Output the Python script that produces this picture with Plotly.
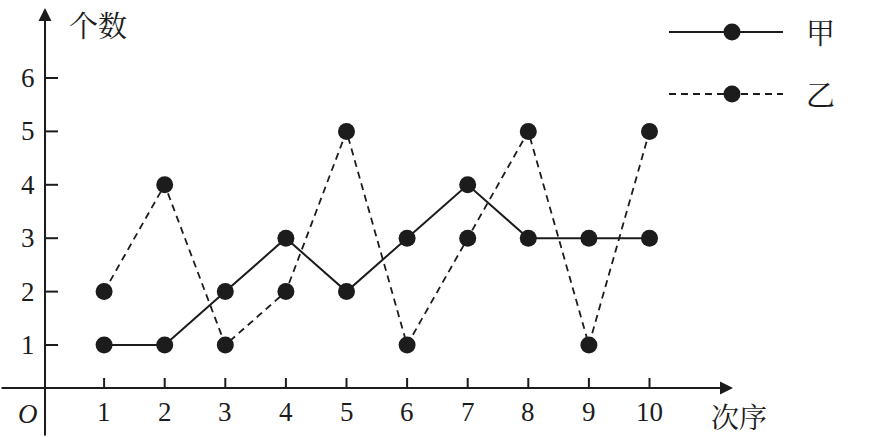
import plotly.graph_objects as go

order = [1, 2, 3, 4, 5, 6, 7, 8, 9, 10]
jia = [1, 1, 2, 3, 2, 3, 4, 3, 3, 3]
yi = [2, 4, 1, 2, 5, 1, 3, 5, 1, 5]
y_ticks = [1, 2, 3, 4, 5, 6]
x_tick_labels = [str(v) for v in order]
y_tick_labels = [str(v) for v in y_ticks]

W, H = 871, 437
X0PX, SX = 43.5, 60.6
Y0PX, SY = 398.4, 53.4
xr = [-X0PX / SX, (W - X0PX) / SX]
yr = [(Y0PX - H) / SY, Y0PX / SY]

ink = "#1c1c1c"
serif = "Liberation Serif, Times New Roman, serif"
cjk = "Noto Serif CJK SC, Noto Sans CJK SC, sans-serif"

fig = go.Figure()
fig.add_trace(go.Scatter(x=order, y=jia, mode="lines+markers", name="甲",
                         line=dict(color=ink, width=2),
                         marker=dict(size=17, color=ink), showlegend=False))
fig.add_trace(go.Scatter(x=order, y=yi, mode="lines+markers", name="乙",
                         line=dict(color=ink, width=1.8, dash="7px,5px"),
                         marker=dict(size=17, color=ink), showlegend=False))

axis_x = 0.025
axis_y = 0.195
shapes = []
annotations = []

def txt(x, y, t, font, xref="x", yref="y"):
    return dict(x=x, y=y, xref=xref, yref=yref, text=t, showarrow=False,
                xanchor="center", yanchor="middle", font=font)

# axes with arrows
annotations.append(dict(x=axis_x, y=(Y0PX - 8) / SY, ax=axis_x, ay=yr[0],
                        xref="x", yref="y", axref="x", ayref="y",
                        showarrow=True, arrowhead=2, arrowsize=1.3, arrowwidth=2,
                        arrowcolor=ink, text="", standoff=0))
annotations.append(dict(x=(733 - X0PX) / SX, y=axis_y, ax=xr[0], ay=axis_y,
                        xref="x", yref="y", axref="x", ayref="y",
                        showarrow=True, arrowhead=2, arrowsize=1.3, arrowwidth=2,
                        arrowcolor=ink, text="", standoff=0))

# ticks
for v in order:
    shapes.append(dict(type="line", xref="x", yref="y", x0=v, x1=v,
                       ysizemode="pixel", yanchor=axis_y, y0=0, y1=10,
                       line=dict(color=ink, width=2)))
for v in y_ticks:
    shapes.append(dict(type="line", xref="x", yref="y", y0=v, y1=v,
                       xsizemode="pixel", xanchor=axis_x, x0=0, x1=13,
                       line=dict(color=ink, width=2)))

numfont = dict(family=serif, size=27, color=ink)
cjkfont = dict(family=cjk, size=29, color=ink)

for v, t in zip(order, x_tick_labels):
    annotations.append(txt(v, (Y0PX - 412) / SY, t, numfont))
for v, t in zip(y_ticks, y_tick_labels):
    annotations.append(txt((28 - X0PX) / SX, v, t, numfont))

annotations.append(txt((28 - X0PX) / SX, (Y0PX - 414) / SY, "<i>O</i>", numfont))
annotations.append(txt((98 - X0PX) / SX, (Y0PX - 24) / SY, "个数", cjkfont))
annotations.append(txt((739 - X0PX) / SX, (Y0PX - 416) / SY, "次序",
                       dict(family=cjk, size=28, color=ink)))

# legend drawn by hand
for py, name, dash in [(32, "甲", "solid"), (94, "乙", "7px,5px")]:
    yp = 1 - py / H
    shapes.append(dict(type="line", xref="paper", yref="paper",
                       x0=669 / W, x1=783 / W, y0=yp, y1=yp,
                       line=dict(color=ink, width=2, dash=dash)))
    shapes.append(dict(type="circle", xref="paper", yref="paper",
                       xsizemode="pixel", ysizemode="pixel",
                       xanchor=732 / W, yanchor=yp, x0=-8.5, x1=8.5, y0=-8.5, y1=8.5,
                       fillcolor=ink, line=dict(color=ink, width=0)))
    annotations.append(txt(820 / W, yp, name, cjkfont, xref="paper", yref="paper"))

fig.update_layout(width=W, height=H, autosize=False,
                  margin=dict(l=0, r=0, t=0, b=0),
                  paper_bgcolor="white", plot_bgcolor="white",
                  xaxis=dict(range=xr, visible=False, fixedrange=True),
                  yaxis=dict(range=yr, visible=False, fixedrange=True),
                  shapes=shapes, annotations=annotations, showlegend=False)

fig.write_html("out.html", config={"displayModeBar": False},
               post_script="document.body.style.margin='0';document.body.style.overflow='hidden';")
